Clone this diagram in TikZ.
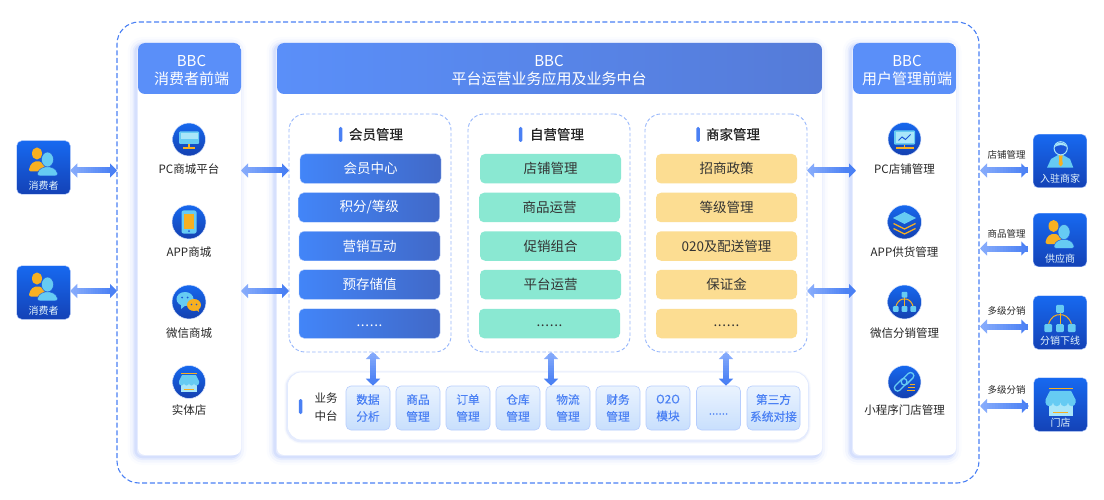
\documentclass[tikz,border=0pt]{standalone}
\usepackage{fontspec}
\setmainfont{Noto Sans CJK SC}
\newfontfamily\titlefont[FakeBold=0.5]{Noto Sans CJK SC}
\newfontfamily\cellfont[FakeBold=0.2]{Noto Sans CJK SC}
\newfontfamily\dotfont[LetterSpace=5]{Noto Sans CJK SC}
\usetikzlibrary{arrows.meta,decorations.markings}

\definecolor{tipLight}{HTML}{86ABFB}
\definecolor{tipDark}{HTML}{4A80F4}
\definecolor{headBlue}{HTML}{5A8FF9}
\definecolor{headEnd}{HTML}{557BD8}
\definecolor{itemStart}{HTML}{4285F8}
\definecolor{itemEnd}{HTML}{4169C8}
\definecolor{glowBlue}{HTML}{5F86F7}
\definecolor{cyanIcon}{HTML}{66CBF3}
\definecolor{cyanPale}{HTML}{A9E6F9}
\definecolor{orangeIcon}{HTML}{F7B021}
\definecolor{navyIcon}{HTML}{1A55D8}
\definecolor{greenItem}{HTML}{8AE8D2}
\definecolor{yellowItem}{HTML}{FCDD92}
\definecolor{cellStart}{HTML}{EAF3FE}
\definecolor{cellEnd}{HTML}{C8DFFD}

\tikzset{
  every pic/.style={yscale=-1},
  glow/.style={
    preaction={draw=glowBlue,line width=16pt,opacity=.025,transform canvas={xshift=-2.5pt,yshift=-2pt}},
    preaction={draw=glowBlue,line width=11pt,opacity=.05,transform canvas={xshift=-2.5pt,yshift=-2pt}},
    preaction={draw=glowBlue,line width=6pt,opacity=.09,transform canvas={xshift=-2.5pt,yshift=-2pt}},
    preaction={draw=glowBlue,line width=2.5pt,opacity=.12,transform canvas={xshift=-2.5pt,yshift=-2pt}}},
  softglow/.style={
    preaction={draw=glowBlue,line width=5pt,opacity=.05,transform canvas={xshift=-.5pt,yshift=-1pt}},
    preaction={draw=glowBlue,line width=2.5pt,opacity=.1,transform canvas={xshift=-.5pt,yshift=-1pt}}},
  panel/.style={glow,fill=white,rounded corners=7pt,inner sep=0pt,outer sep=0pt,
    minimum height=412pt,
    path picture={\fill[headBlue] (path picture bounding box.north west) rectangle ([yshift=-51pt]path picture bounding box.north east);}},
  midpanel/.style={glow,fill=white,rounded corners=7pt,inner sep=0pt,outer sep=0pt,
    minimum height=412pt,minimum width=545pt,
    path picture={\fill[left color=headBlue,right color=headEnd] (path picture bounding box.north west) rectangle ([yshift=-51pt]path picture bounding box.north east);}},
  headtext/.style={text=white,align=center,inner sep=0pt,font=\fontsize{15}{18}\selectfont},
  outerbox/.style={draw=tipDark,line width=1.1pt,dash pattern=on 5pt off 2.6pt,rounded corners=22pt,
    minimum width=862pt,minimum height=461pt,inner sep=0pt,outer sep=0pt},
  dashbox/.style={draw=tipLight!85!white,line width=.9pt,dash pattern=on 3.5pt off 2.2pt,rounded corners=16pt,
    minimum width=162pt,minimum height=238pt,inner sep=0pt,outer sep=0pt},
  titlebar/.style={fill=tipDark,rounded corners=1.5pt,minimum width=3.5pt,minimum height=15pt,inner sep=0pt},
  titletext/.style={text=black!85,inner sep=0pt,font=\titlefont\fontsize{13.5}{15}\selectfont},
  menuitem/.style={rounded corners=5pt,minimum width=141pt,minimum height=29.5pt,inner sep=0pt,
    font=\fontsize{13.5}{15}\selectfont},
  memberitem/.style={menuitem,draw=tipLight!60!white,line width=.4pt,left color=itemStart,right color=itemEnd,text=white},
  selfitem/.style={menuitem,fill=greenItem,text=black!80},
  shopitem/.style={menuitem,fill=yellowItem,text=black!80},
  bizbar/.style={softglow,fill=white,draw=tipLight!25!white,line width=.6pt,rounded corners=14pt,
    minimum width=521pt,minimum height=68pt,inner sep=0pt,outer sep=0pt},
  cellbox/.style={draw=tipLight!60!white,line width=.6pt,rounded corners=5pt,minimum height=44pt,minimum width=44pt,
    top color=cellStart,bottom color=cellEnd,text=tipDark,
    inner sep=0pt,align=center,font=\cellfont\fontsize{11.7}{17}\selectfont,
    execute at begin node={\rule{0pt}{13.5pt}}},
  iconball/.style={circle,draw=tipLight!30!white,line width=.5pt,top color={rgb,255:red,22;green,104;blue,238},bottom color={rgb,255:red,20;green,64;blue,176},
    minimum size=33pt,inner sep=0pt,outer sep=0pt},
  itemtext/.style={text=black!85,inner sep=0pt,font=\fontsize{11.5}{13}\selectfont},
  sidetext/.style={text=black!85,inner sep=0pt,font=\fontsize{9.5}{11}\selectfont},
  badge/.style={rounded corners=5pt,draw=tipLight!70!white,line width=.4pt,top color={rgb,255:red,23;green,105;blue,240},bottom color={rgb,255:red,20;green,66;blue,182},
    minimum size=53.5pt,inner sep=0pt,outer sep=0pt},
  badgetext/.style={text=white!90!cyan,inner sep=0pt,font=\fontsize{10}{12}\selectfont},
  biarrow/.style={line width=6pt,draw=tipLight!50!tipDark,
    {Triangle[width=14pt,length=7pt,color=tipLight]}-{Triangle[width=14pt,length=7pt,color=tipDark]},
    postaction={decorate,decoration={markings,
      mark=between positions .12 and .9 step .05 with {
        \pgfmathsetmacro\mixval{min(100,\pgfkeysvalueof{/pgf/decoration/mark info/sequence number}*6)}
        \fill[tipDark!\mixval!tipLight] (-1.6pt,-3pt) rectangle (1.6pt,3pt);}}}},
  pics/monitor/.style={code={
    \fill[cyanIcon,rounded corners=1pt] (-10,-8) rectangle (10,4.5);
    \fill[cyanPale] (-8.5,-6.5) rectangle (8.5,-.5);
    \fill[orangeIcon] (-1,4.5) rectangle (1,8);
    \fill[orangeIcon] (-6,8) rectangle (6,9.2);}},
  pics/phone/.style={code={
    \fill[cyanIcon,rounded corners=2pt] (-7.5,-11.5) rectangle (7.5,11.5);
    \fill[orangeIcon] (-5,-8) rectangle (5,7);
    \fill[navyIcon] (0,9.2) circle (1);}},
  pics/chat/.style={code={
    \fill[cyanIcon] (-4,-3) ellipse (8.5 and 7);
    \fill[cyanIcon] (-8,2) -- (-8,7) -- (-3,3) -- cycle;
    \fill[navyIcon] (-7,-4.5) circle (1);
    \fill[navyIcon] (-1.5,-4.5) circle (1);
    \fill[orangeIcon] (5,3) ellipse (7 and 6);
    \fill[orangeIcon] (6,7) -- (10,10) -- (9,5) -- cycle;
    \fill[navyIcon] (2.5,2.5) circle (.9);
    \fill[navyIcon] (7.5,2.5) circle (.9);}},
  pics/store/.style={code={
    \fill[cyanPale] (-8,0) rectangle (8,10);
    \fill[orangeIcon] (-8,-8.8) rectangle (8,-7.8);
    \fill[cyanIcon] (-7,-6.8) -- (7,-6.8) -- (10,-1) -- (10,1) -- (-10,1) -- (-10,-1) -- cycle;
    \fill[cyanIcon] (-7.5,1) circle (2.5);
    \fill[cyanIcon] (-2.5,1) circle (2.5);
    \fill[cyanIcon] (2.5,1) circle (2.5);
    \fill[cyanIcon] (7.5,1) circle (2.5);
    \fill[orangeIcon] (-5,7) rectangle (5,7.9);}},
  pics/chart/.style={code={
    \fill[cyanIcon,rounded corners=1pt] (-10.5,-8.7) rectangle (10.5,5.7);
    \fill[cyanPale] (-9,-7.2) rectangle (9,4.2);
    \draw[navyIcon,line width=1pt] (-6,1.5) -- (-2.5,-2) -- (1,.5) -- (6,-4.5);
    \fill[orangeIcon] (-.8,5.7) rectangle (.8,8.5);
    \fill[orangeIcon] (-9,8.2) rectangle (9,9.6);}},
  pics/layers/.style={code={
    \draw[orangeIcon,line width=1.2pt] (-11,1.5) -- (0,7) -- (11,1.5);
    \draw[orangeIcon,line width=1.2pt] (-11,6.5) -- (0,12) -- (11,6.5);
    \fill[cyanIcon] (0,-10) -- (11.5,-4) -- (0,2) -- (-11.5,-4) -- cycle;}},
  pics/tree/.style={code={
    \draw[orangeIcon,line width=1pt] (-8.7,5) .. controls (-7,-2) and (-3,-3) .. (0,-3) .. controls (3,-3) and (7,-2) .. (8.7,5);
    \draw[orangeIcon,line width=1pt] (0,-5) -- (0,5);
    \fill[cyanIcon,rounded corners=1pt] (-2.9,-10.2) rectangle (2.9,-4.4);
    \fill[cyanIcon,rounded corners=1pt] (-11.6,4.1) rectangle (-5.8,9.9);
    \fill[cyanIcon,rounded corners=1pt] (-2.9,4.1) rectangle (2.9,9.9);
    \fill[cyanIcon,rounded corners=1pt] (5.8,4.1) rectangle (11.6,9.9);}},
  pics/chain/.style={code={
    \draw[cyanIcon,line width=1.3pt,rounded corners=3pt,shift={(3,-3.2)},rotate=-45] (-7.5,-3.2) rectangle (7.5,3.2);
    \draw[cyanIcon,line width=1.3pt,rounded corners=3pt,shift={(-3.8,2.8)},rotate=-45] (-7.5,-3.2) rectangle (7.5,3.2);
    \fill[orangeIcon] (5,1.5) rectangle (10,2.5);
    \fill[orangeIcon] (3.5,5) rectangle (10,6);
    \fill[orangeIcon] (2,8.4) rectangle (10,9.4);}},
  pics/people/.style={code={
    \fill[orangeIcon] (-6.5,-14) ellipse (5 and 6);
    \fill[orangeIcon,rounded corners=2pt] (-14.5,4) -- (-14.5,0) -- (-10,-6) -- (-2,-6) -- (2,0) -- (2,4) -- cycle;
    \fill[cyanIcon,draw=navyIcon,line width=.4pt] (4,-8) ellipse (6 and 7.5);
    \fill[cyanIcon,draw=navyIcon,line width=.4pt,rounded corners=2pt] (-6,8.3) -- (-6,4) -- (-.5,-.5) -- (8.5,-.5) -- (14,4) -- (14,8.3) -- cycle;}},
  pics/agent/.style={code={
    \fill[cyanIcon] (-13,6.7) -- (-9,-2) -- (-2,-6) -- (3,-6) -- (10,-2) -- (13.3,6.7) -- cycle;
    \fill[orangeIcon] (-1.2,-5.5) -- (2.6,-5.5) -- (2.2,-1) -- (2.8,3) -- (.7,5.5) -- (-1.4,3) -- (-.8,-1) -- cycle;
    \fill[navyIcon,draw=cyanPale,line width=1pt] (.7,-12.7) circle (6.6);
    \fill[cyanPale] (-5.5,-14) .. controls (-4,-20) and (5,-20) .. (7,-14) .. controls (3,-17) and (-2,-16) .. (-5.5,-14) -- cycle;}},
}
\newcommand{\dotrow}{\dotfont\rule{0pt}{7pt}......}

\begin{document}
\begin{tikzpicture}[x=1pt,y=1pt,yscale=-1,xscale=1]
\useasboundingbox (0,0) rectangle (1104,500);

% rows of the arrows
\coordinate (rowA) at (0,170.5);
\coordinate (rowB) at (0,291);
\coordinate (rowC) at (0,248.5);
\coordinate (rowD) at (0,326.5);
\coordinate (rowE) at (0,406);
\coordinate (colA) at (373,0);
\coordinate (colB) at (551,0);
\coordinate (colC) at (726,0);

\draw (548,252.5) node (outer) [outerbox] {};

% Panels
\draw (189.5,249) node (panelL) [panel,minimum width=103pt] {};
\draw (549.5,249) node (panelM) [midpanel] {};
\draw (904.5,249) node (panelR) [panel,minimum width=103pt] {};
\draw (191.5,71) node (headL) [headtext] {BBC\\消费者前端};
\draw (549,71) node (headM) [headtext] {BBC\\平台运营业务应用及业务中台};
\draw (907,71) node (headR) [headtext] {BBC\\用户管理前端};

% Dashed groups
\draw (370,233) node (dashA) [dashbox] {};
\draw (549,233) node (dashB) [dashbox] {};
\draw (726,233) node (dashC) [dashbox] {};
\draw (340.7,134.5) node (barA) [titlebar] {};
\draw (376,134.3) node (titleA) [titletext] {会员管理};
\draw (520.7,134.5) node (barB) [titlebar] {};
\draw (557,134.3) node (titleB) [titletext] {自营管理};
\draw (698.2,134.5) node (barC) [titlebar] {};
\draw (733,134.3) node (titleC) [titletext] {商家管理};

% Member items
\draw (370.5,168.7) node (itemA) [memberitem] {会员中心};
\draw (369.2,207.5) node (itemB) [memberitem] {积分/等级};
\draw (369.5,246) node (itemC) [memberitem] {营销互动};
\draw (369.5,284.5) node (itemD) [memberitem] {预存储值};
\draw (369.5,323.5) node (itemE) [memberitem] {\dotrow};

% Self-run items
\draw (550.5,168.7) node (itemF) [selfitem] {店铺管理};
\draw (549.5,207.5) node (itemG) [selfitem] {商品运营};
\draw (550.5,246) node (itemH) [selfitem] {促销组合};
\draw (550.5,284.5) node (itemI) [selfitem] {平台运营};
\draw (549.5,323.5) node (itemJ) [selfitem] {\dotrow};

% Merchant items
\draw (726.5,168.7) node (itemK) [shopitem] {招商政策};
\draw (726.5,207.5) node (itemL) [shopitem] {等级管理};
\draw (726.5,246) node (itemM) [shopitem] {020及配送管理};
\draw (726.5,284.5) node (itemN) [shopitem] {保证金};
\draw (726.5,323.5) node (itemO) [shopitem] {\dotrow};

% Business bar
\draw (548,406) node (bizBar) [bizbar] {};
\draw (300.5,406.5) node (barD) [titlebar] {};
\draw (326,407) node (bizText) [itemtext,align=center,font=\fontsize{11.5}{18}\selectfont] {业务\\中台};
\draw (368,408) node (cellA) [cellbox] {数据\\分析};
\draw (418,408) node (cellB) [cellbox] {商品\\管理};
\draw (468,408) node (cellC) [cellbox] {订单\\管理};
\draw (518,408) node (cellD) [cellbox] {仓库\\管理};
\draw (568,408) node (cellE) [cellbox] {物流\\管理};
\draw (618,408) node (cellF) [cellbox] {财务\\管理};
\draw (668,408) node (cellG) [cellbox] {O2O\\模块};
\draw (718.5,408) node (cellH) [cellbox,execute at begin node={}] {......};
\draw (773.5,408) node (cellI) [cellbox,minimum width=53pt] {第三方\\系统对接};

% Left panel items
\draw (189,139.5) node (iconA) [iconball] {};
\pic at (iconA) {monitor};
\draw (189,169.5) node (textA) [itemtext] {PC商城平台};
\draw (189,222) node (iconB) [iconball,minimum size=34pt] {};
\pic at (iconB) {phone};
\draw (189,252) node (textB) [itemtext] {APP商城};
\draw (189,302) node (iconC) [iconball,minimum size=34pt] {};
\pic at (iconC) {chat};
\draw (189,333) node (textC) [itemtext] {微信商城};
\draw (189,382) node (iconD) [iconball] {};
\pic at (iconD) {store};
\draw (189,410) node (textD) [itemtext] {实体店};

% Right panel items
\draw (904.5,139) node (iconE) [iconball] {};
\pic at (iconE) {chart};
\draw (904.5,169) node (textE) [itemtext] {PC店铺管理};
\draw (904.5,222) node (iconF) [iconball,minimum size=34pt] {};
\pic at (iconF) {layers};
\draw (904.5,252) node (textF) [itemtext] {APP供货管理};
\draw (904.5,302) node (iconG) [iconball,minimum size=34pt] {};
\pic at (iconG) {tree};
\draw (904.5,333) node (textG) [itemtext] {微信分销管理};
\draw (904.5,382) node (iconH) [iconball] {};
\pic at (iconH) {chain};
\draw (904.5,410) node (textH) [itemtext] {小程序门店管理};

% Left badges
\draw (43.5,167.5) node (userA) [badge] {};
\pic at (userA) {people};
\draw (43.5,186) node (userTextA) [badgetext] {消费者};
\draw (43.5,292.5) node (userB) [badge] {};
\pic at (userB) {people};
\draw (43.5,311) node (userTextB) [badgetext] {消费者};

% Right badges
\draw (1060,161) node (roleA) [badge] {};
\pic at (roleA) {agent};
\draw (1060,179) node (roleTextA) [badgetext] {入驻商家};
\draw (1060,240) node (roleB) [badge] {};
\pic at (roleB) {people};
\draw (1060,258.5) node (roleTextB) [badgetext] {供应商};
\draw (1060,322.5) node (roleC) [badge] {};
\pic[scale=1.35] at ([yshift=-3.8pt]roleC.center) {tree};
\draw (1060,340.5) node (roleTextC) [badgetext] {分销下线};
\draw (1060.5,404.5) node (roleD) [badge] {};
\pic[scale=1.5] at ([yshift=-3.5pt]roleD.center) {store};
\draw (1060.5,422.5) node (roleTextD) [badgetext] {门店};

% Labels on the right arrows
\draw (1006.5,155) node (noteA) [sidetext] {店铺管理};
\draw (1006.5,233.5) node (noteB) [sidetext] {商品管理};
\draw (1006.5,311) node (noteC) [sidetext] {多级分销};
\draw (1006.5,390) node (noteD) [sidetext] {多级分销};

% Arrows
\draw[biarrow] (userA.east |- rowA) -- (outer.west |- rowA);
\draw[biarrow] (userB.east |- rowB) -- (outer.west |- rowB);
\draw[biarrow] (panelL.east |- rowA) -- (dashA.west |- rowA);
\draw[biarrow] (panelL.east |- rowB) -- (dashA.west |- rowB);
\draw[biarrow,shorten >=-3pt] (dashC.east |- rowA) -- (panelR.west |- rowA);
\draw[biarrow,shorten >=-3pt] (dashC.east |- rowB) -- (panelR.west |- rowB);
\draw[biarrow,shorten >=5pt,shorten <=1pt] (outer.east |- rowA) -- (roleA.west |- rowA);
\draw[biarrow,shorten >=5pt,shorten <=1pt] (outer.east |- rowC) -- (roleB.west |- rowC);
\draw[biarrow,shorten >=5pt,shorten <=1pt] (outer.east |- rowD) -- (roleC.west |- rowD);
\draw[biarrow,shorten >=5pt,shorten <=1pt] (outer.east |- rowE) -- (roleD.west |- rowE);
\draw[biarrow] (dashA.south -| colA) -- (cellA.north -| colA);
\draw[biarrow] (dashB.south -| colB) -- (cellE.north -| colB);
\draw[biarrow] (dashC.south -| colC) -- (cellH.north -| colC);
\end{tikzpicture}
\end{document}
